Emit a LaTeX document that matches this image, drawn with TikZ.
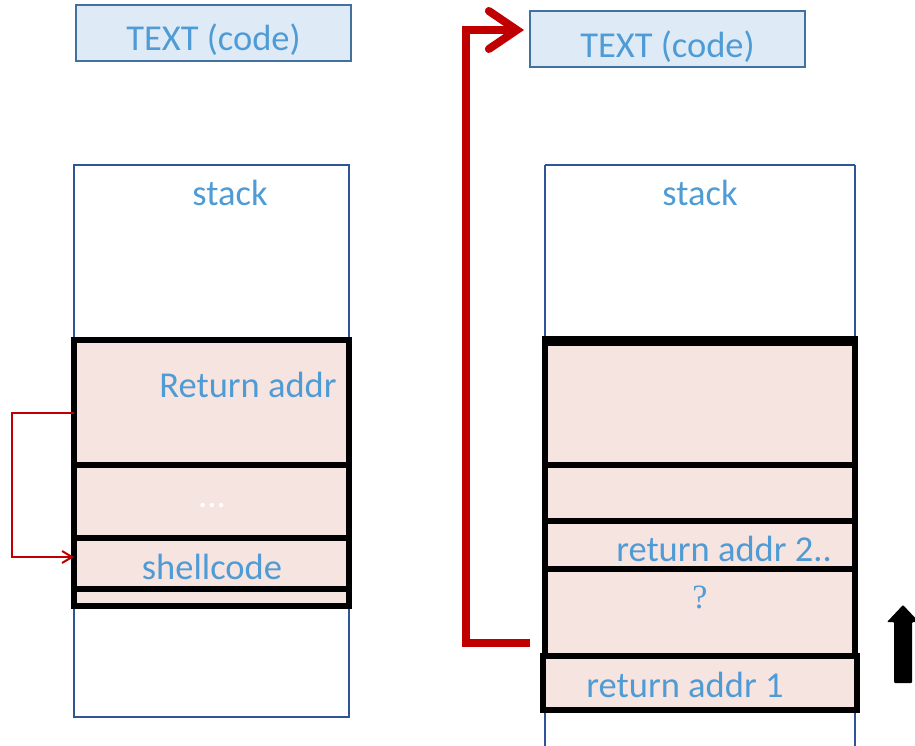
\documentclass[tikz,border=0pt]{standalone}
\usepackage{fontspec}
\setmainfont{Carlito}
\newfontfamily\qfont{Liberation Serif}
\usetikzlibrary{arrows.meta,calc}

\definecolor{txtblue}{HTML}{4F9BD5}
\definecolor{boxfill}{HTML}{DEEBF7}
\definecolor{boxline}{HTML}{41719C}
\definecolor{stackline}{HTML}{2F5597}
\definecolor{cellfill}{HTML}{F6E4E0}
\definecolor{jmpred}{HTML}{C00000}

\tikzset{
  codebox/.style={draw=boxline, fill=boxfill, line width=2pt, minimum width=275pt, minimum height=56pt, inner sep=0pt},
  lbl/.style={text=txtblue, font=\fontsize{36.5}{40}\selectfont, inner sep=0pt},
  stackcol/.style={draw=stackline, line width=1.5pt},
  cell/.style={draw=black, fill=cellfill, line width=6pt, inner sep=0pt, outer sep=0pt},
}

\begin{document}
\begin{tikzpicture}[x=1pt,y=-1pt]
    \useasboundingbox (0,0) rectangle (915,746);
    % code segments
    \node[codebox] (textL) at (213.5,33) {};
    \node[lbl] at ($(textL.center)+(0,7)$) {TEXT (code)};
    \node[codebox] (textR) at (667.5,39.5) {};
    \node[lbl] at ($(textR.center)+(0,7)$) {TEXT (code)};

    % left stack
    \draw[stackcol] (74,165) rectangle (349,717);
    \node[lbl] at (230,193) {stack};
    \node[cell, minimum width=275pt, minimum height=125pt] (retL) at (211.5,402.5) {};
    \node[cell, minimum width=275pt, minimum height=73pt] (dotsL) at (211.5,501.5) {};
    \node[cell, minimum width=275pt, minimum height=51pt] (shell) at (211.5,563.5) {};
    \node[cell, minimum width=275pt, minimum height=17pt] (padL) at (211.5,597.5) {};
    \node[lbl] at (248,385) {Return addr};
    \node[lbl, text=white] at (212,506) {...};
    \node[lbl] at (212,567) {shellcode};
    \coordinate (retout) at ($(retL.west)+(0,10.5)$);
    \coordinate (shellin) at ($(shell.west)+(0,-6.5)$);
    \draw[jmpred, line width=2pt][-{Straight Barb[length=10pt,width=12pt]}] (retout) -- ++(-62,0) |- (shellin); % jump to shellcode

    % right stack
    \draw[stackcol] (545,165) -- (545,760) (855,165) -- (855,760);
    \draw[stackcol] (545,165) -- (855,165);
    \node[lbl] at (700,193) {stack};
    \node[cell, minimum width=310pt, minimum height=125pt] (topR) at (700,402.5) {};
    \draw[line width=10pt] (542,341) -- (858,341); % thick top edge
    \node[cell, minimum width=310pt, minimum height=56pt] (midR) at (700,493) {};
    \node[cell, minimum width=310pt, minimum height=48pt] (ret2) at (700,545) {};
    \node[cell, minimum width=310pt, minimum height=87pt] (gap) at (700,612.5) {};
    \node[cell, minimum width=314pt, minimum height=54pt] (ret1) at (700,683) {};
    \node[lbl] at (724,549) {return addr 2..};
    \node[lbl, font=\qfont\fontsize{34}{38}\selectfont] at (700,597) {?};
    \node[lbl] at (685,685) {return addr 1};
    \coordinate (ropout) at (530,643);
    \coordinate (ropin) at ($(textR.west)+(-5,-9.5)$);
    \draw[jmpred, line width=8pt][-{Straight Barb[length=28pt,width=38pt,line cap=round]}] (ropout) -- (466,643) |- (ropin); % return into code

    % direction of growth
    \fill[black, rounded corners=1pt] (894,683) -- (894,622) -- (887,622) -- (903,605) -- (919,622) -- (912,622) -- (912,683) -- cycle;
\end{tikzpicture}
\end{document}
